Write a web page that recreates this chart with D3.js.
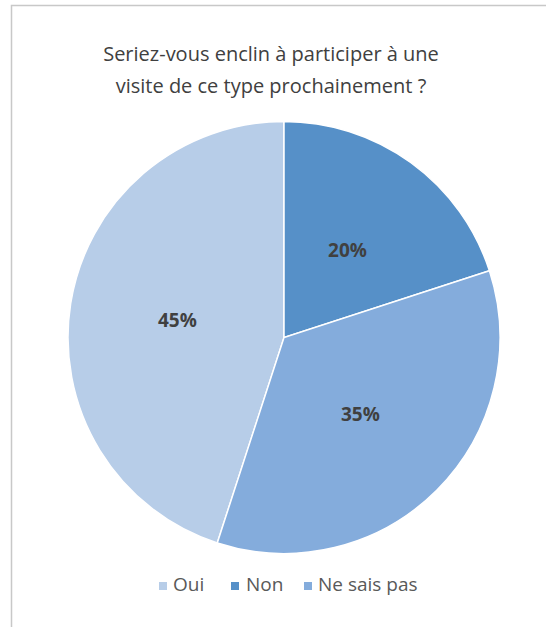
<!DOCTYPE html>
<html>
<head>
<meta charset="utf-8">
<script src="https://cdn.jsdelivr.net/npm/d3@7"></script>
<style>
  html, body { margin: 0; padding: 0; background: #fff; }
  svg { display: block; }
</style>
</head>
<body>
<svg id="chart" width="546" height="627"></svg>
<script>
// Survey answers
const categories = ["Oui", "Non", "Ne sais pas"];
const values = [45, 20, 35];
const colors = ["#b7cde8", "#5690c8", "#84acdc"];
const titleLines = ["Seriez-vous enclin à participer à une", "visite de ce type prochainement ?"];

const W = 546, H = 627;
const svg = d3.select("#chart");
const font = "'Open Sans', 'Noto Sans', sans-serif";

// chart frame (runs off the right and bottom edges)
svg.append("path")
  .attr("d", `M11.5,${H + 2} V5.5 H${W + 2}`)
  .attr("fill", "none")
  .attr("stroke", "#c8c8c8")
  .attr("stroke-width", 1.5);

// title
svg.append("g").selectAll("text")
  .data(titleLines)
  .join("text")
  .attr("x", 271)
  .attr("y", (d, i) => 61 + i * 32)
  .attr("text-anchor", "middle")
  .attr("font-family", font)
  .attr("font-size", 20)
  .attr("fill", "#404040")
  .text(d => d);

// pie
const cx = 284, cy = 337.5, r = 216;
const data = categories.map((c, i) => ({ cat: c, value: values[i], color: colors[i] }));
const pie = d3.pie().value(d => d.value).sort(null)
  .startAngle(0.55 * 2 * Math.PI).endAngle(0.55 * 2 * Math.PI + 2 * Math.PI);
const arcs = pie(data);
const arc = d3.arc().innerRadius(0).outerRadius(r);
const labelArc = d3.arc().innerRadius(r * 0.5).outerRadius(r * 0.5);

const g = svg.append("g").attr("transform", `translate(${cx},${cy})`);
g.selectAll("path")
  .data(arcs)
  .join("path")
  .attr("d", arc)
  .attr("fill", d => d.data.color)
  .attr("stroke", "#fff")
  .attr("stroke-width", 1.5);

g.selectAll("text")
  .data(arcs)
  .join("text")
  .attr("transform", d => `translate(${labelArc.centroid(d)})`)
  .attr("text-anchor", "middle")
  .attr("dy", "0.35em")
  .attr("font-family", font)
  .attr("font-size", 19)
  .attr("font-weight", "bold")
  .attr("fill", "#404040")
  .text(d => d.data.value + "%");

// legend
const legendItems = [
  { x: 159, tx: 173 },
  { x: 231, tx: 246 },
  { x: 304, tx: 318 }
];
const lg = svg.append("g");
data.forEach((d, i) => {
  lg.append("rect")
    .attr("x", legendItems[i].x).attr("y", 582)
    .attr("width", 8).attr("height", 8)
    .attr("fill", d.color);
  lg.append("text")
    .attr("x", legendItems[i].tx).attr("y", 591)
    .attr("font-family", font)
    .attr("font-size", 19)
    .attr("fill", "#595959")
    .text(d.cat);
});
</script>
</body>
</html>
